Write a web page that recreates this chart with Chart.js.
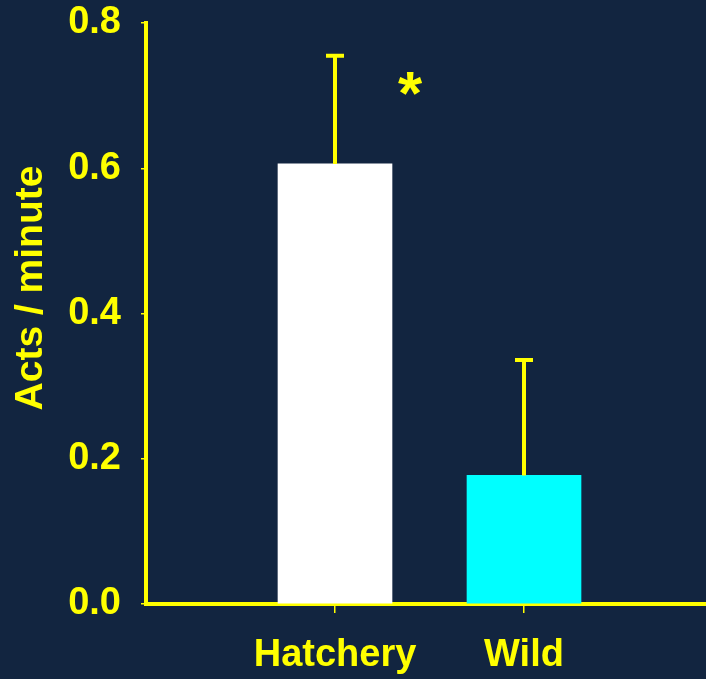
<!DOCTYPE html>
<html>
<head>
<meta charset="utf-8">
<script src="https://cdn.jsdelivr.net/npm/chart.js@4/dist/chart.umd.min.js"></script>
<style>
  html, body { margin: 0; padding: 0; background: #122540; overflow: hidden; }
  #wrap { width: 706px; height: 679px; overflow: hidden; }
  #wrap canvas { display: block; }
</style>
</head>
<body>
<div id="wrap"><canvas id="grafico" width="713" height="679"></canvas></div>
<script>
// Dados
const categorias = ['Hatchery', 'Wild'];
const media = [0.606, 0.177];
const limiteSuperior = [0.755, 0.336];
const coresBarras = ['#ffffff', '#00ffff'];
const marcas = ['*', ''];
const ticksY = [0, 0.2, 0.4, 0.6, 0.8];
const tituloY = 'Acts / minute';

const amarelo = '#ffff00';
const fonte = "'Liberation Sans', Arial, sans-serif";

// Barras de erro, asterisco e título do eixo Y
const extras = {
  id: 'extras',
  afterDatasetsDraw(chart) {
    const { ctx, scales: { x, y } } = chart;
    ctx.save();
    ctx.strokeStyle = amarelo;
    ctx.fillStyle = amarelo;
    ctx.lineWidth = 4;
    categorias.forEach((cat, i) => {
      const px = x.getPixelForValue(i + 1);
      const y0 = y.getPixelForValue(media[i]);
      const y1 = y.getPixelForValue(limiteSuperior[i]);
      ctx.beginPath();
      ctx.moveTo(px, y0);
      ctx.lineTo(px, y1);
      ctx.moveTo(px - 9, y1);
      ctx.lineTo(px + 9, y1);
      ctx.stroke();
      if (marcas[i]) {
        ctx.font = 'bold 62px ' + fonte;
        ctx.textAlign = 'center';
        ctx.textBaseline = 'alphabetic';
        ctx.fillText(marcas[i], px + 75, y1 + 58);
      }
    });
    // título do eixo
    ctx.font = 'bold 39px ' + fonte;
    ctx.textAlign = 'center';
    ctx.textBaseline = 'middle';
    ctx.translate(31, 288);
    ctx.rotate(-Math.PI / 2);
    ctx.fillText(tituloY, 0, 0);
    ctx.restore();
  }
};

new Chart(document.getElementById('grafico'), {
  type: 'bar',
  data: {
    datasets: [{
      data: categorias.map((c, i) => ({ x: i + 1, y: media[i] })),
      backgroundColor: coresBarras,
      borderWidth: 0,
      barThickness: 114
    }]
  },
  options: {
    responsive: false,
    animation: false,
    layout: { padding: 0 },
    plugins: { legend: { display: false }, tooltip: { enabled: false } },
    scales: {
      x: {
        type: 'linear',
        min: 0,
        max: 3,
        offset: false,
        z: 1,
        afterBuildTicks: (scale) => { scale.ticks = categorias.map((c, i) => ({ value: i + 1 })); },
        afterFit: (scale) => { scale.height = 75; scale.paddingLeft = 0; scale.paddingRight = 0; },
        border: { display: true, color: amarelo, width: 4 },
        grid: { offset: false, drawOnChartArea: false, drawTicks: true, tickLength: 9, color: amarelo, lineWidth: 1.5 },
        ticks: {
          color: amarelo,
          font: { family: fonte, size: 38, weight: 'bold' },
          padding: 20,
          maxRotation: 0,
          callback: (v) => categorias[v - 1] ?? ''
        }
      },
      y: {
        min: 0,
        max: 0.8,
        z: 1,
        afterBuildTicks: (scale) => { scale.ticks = ticksY.map(v => ({ value: v })); },
        afterFit: (scale) => { scale.width = 146; scale.paddingTop = 23; scale.paddingBottom = 23; },
        border: { display: true, color: amarelo, width: 4 },
        grid: { drawOnChartArea: false, drawTicks: true, tickLength: 5, color: amarelo, lineWidth: 1.5 },
        ticks: {
          color: amarelo,
          font: { family: fonte, size: 38, weight: 'bold' },
          padding: 20,
          callback: (v) => v.toFixed(1)
        }
      }
    }
  },
  plugins: [extras]
});
</script>
</body>
</html>
